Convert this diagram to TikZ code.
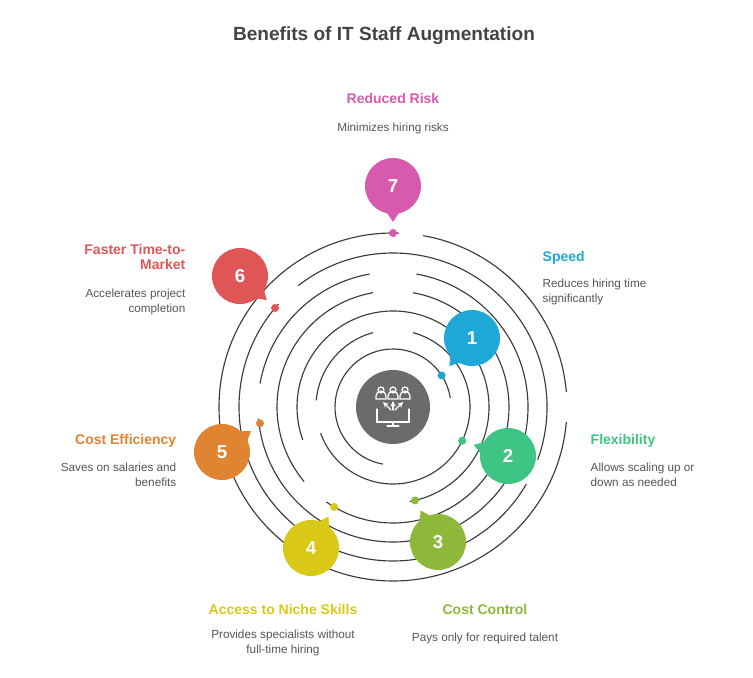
\documentclass[tikz,border=0pt]{standalone}
\usepackage{fontspec}
\setmainfont{Liberation Sans}
\usetikzlibrary{calc}
\definecolor{c7}{HTML}{D85AAE}
\definecolor{c6}{HTML}{E05656}
\definecolor{c5}{HTML}{E08432}
\definecolor{c4}{HTML}{D9C817}
\definecolor{c3}{HTML}{8DB83A}
\definecolor{c2}{HTML}{3EC483}
\definecolor{c1}{HTML}{1EA8D8}
\definecolor{ring}{HTML}{3A3A3A}
\definecolor{desc}{HTML}{555555}
\definecolor{ttl}{HTML}{444444}
\newcommand\mybubble[5]{%
  \node[circle,fill=#4,minimum size=56pt*0.75,inner sep=0,text=white,font=\bfseries\fontsize{14}{16}\selectfont] (b#5) at (#1,#2) {#5};
  \fill[#4] ($(b#5.center)+(#3+30:22)$) -- ($(b#5.center)+(#3:36)$) -- ($(b#5.center)+(#3-30:22)$) -- cycle;
}
\begin{document}
\begin{tikzpicture}[x=0.75pt,y=0.75pt,
  ringline/.style={draw=ring,line width=0.85pt},
  lbl/.style={font=\bfseries\fontsize{10.5}{12.5}\selectfont},
  dsc/.style={font=\fontsize{8.8}{11.5}\selectfont,text=desc,align=center}]
\useasboundingbox (0,0) rectangle (753,678);
\coordinate (c) at (393,271);
% rings
\foreach \r/\a/\b in {58/9/260, 77/-160/75, 77/105/175, 96/-80/200, 116/-125/80, 116/100/220,
  135/185/440, 135/100/170, 154/138/330, 154/-20/128, 174/88/355, 174/5/80}{
  \draw[ringline] ($(c)+(\a:\r)$) arc[start angle=\a,end angle=\b,radius=\r];
}
% center
\node[circle,fill=black!58,minimum size=74pt*0.75,inner sep=0] (hub) at (c) {};
\begin{scope}[white,line width=0.9pt,line cap=round]
  \foreach \dx in {-12,0,12}{
    \draw ($(c)+(\dx,17)$) circle (3);
    \draw ($(c)+(\dx-5,8)$) -- ($(c)+(\dx-5,11)$) arc[start angle=180,end angle=0,radius=5] -- ($(c)+(\dx+5,8)$) -- cycle;
  }
  \draw[->,>=stealth] ($(c)+(0,-3)$) -- ($(c)+(0,6)$);
  \draw[->,>=stealth] ($(c)+(-2,-3)$) -- ($(c)+(-10,5)$);
  \draw[->,>=stealth] ($(c)+(2,-3)$) -- ($(c)+(10,5)$);
  \draw ($(c)+(-16,-2)$) -- ($(c)+(-16,-15)$) -- ($(c)+(16,-15)$) -- ($(c)+(16,-2)$);
  \draw ($(c)+(0,-15)$) -- ($(c)+(0,-19)$) ($(c)+(-6,-19)$) -- ($(c)+(6,-19)$);
\end{scope}
% dots
\foreach \n/\a/\r in {7/90/174, 6/140/154, 5/187/134, 4/239.5/116, 3/-76.7/96, 2/-26/77, 1/33/58}{
  \fill[c\n] ($(c)+(\a:\r)$) circle (4);
  \coordinate (d\n) at ($(c)+(\a:\r)$);
}
% bubbles
\mybubble{393}{492}{-90}{c7}{7}
\mybubble{240}{402}{-42}{c6}{6}
\mybubble{222}{226}{36}{c5}{5}
\mybubble{311}{130}{61}{c4}{4}
\mybubble{438}{136}{119}{c3}{3}
\mybubble{508}{222}{162}{c2}{2}
\mybubble{472}{340}{-129}{c1}{1}
% title
\node[font=\bfseries\fontsize{14.3}{16}\selectfont,text=ttl] (title) at (384,642) {Benefits of IT Staff Augmentation};
% labels
\node[lbl,text=c7] (l7) at (393,579) {Reduced Risk};
\node[dsc] (t7) at (393,550) {Minimizes hiring risks};
\node[lbl,text=c6,align=right,anchor=east] (l6) at (190,421) {Faster Time-to-\\[-1pt]Market};
\node[dsc,align=right,anchor=east] (t6) at (190,376) {Accelerates project\\completion};
\node[lbl,text=c1,anchor=west] (l1) at (538,420) {Speed};
\node[dsc,align=left,anchor=west] (t1) at (538,386) {Reduces hiring time\\significantly};
\node[lbl,text=c2,anchor=west] (l2) at (586,237) {Flexibility};
\node[dsc,align=left,anchor=west] (t2) at (586,203) {Allows scaling up or\\down as needed};
\node[lbl,text=c5,anchor=east] (l5) at (181,237) {Cost Efficiency};
\node[dsc,align=right,anchor=east] (t5) at (181,203) {Saves on salaries and\\benefits};
\node[lbl,text=c4] (l4) at (283,69) {Access to Niche Skills};
\node[dsc] (t4) at (283,35) {Provides specialists without\\full-time hiring};
\node[lbl,text=c3] (l3) at (485,69) {Cost Control};
\node[dsc] (t3) at (485,40) {Pays only for required talent};
\end{tikzpicture}
\end{document}
